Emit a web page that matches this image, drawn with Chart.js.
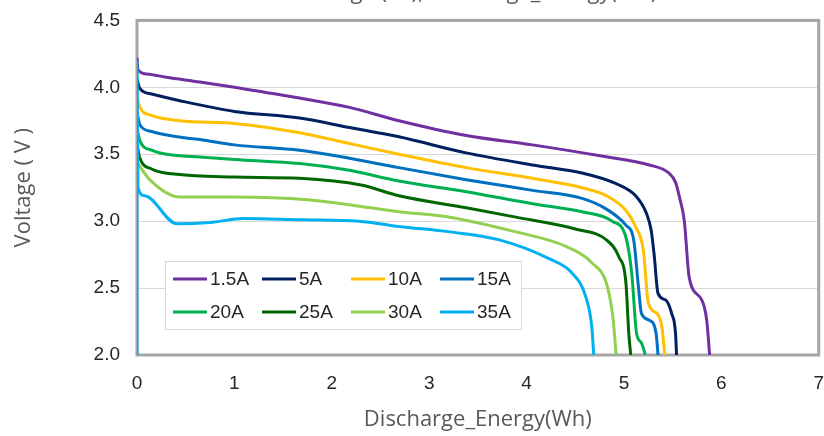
<!DOCTYPE html>
<html>
<head>
<meta charset="utf-8">
<script src="https://cdn.jsdelivr.net/npm/chart.js@4"></script>
<style>
  body { margin: 0; background: #fff; }
  #wrap { position: relative; width: 824px; height: 436px; overflow: hidden; }
  #myChart { position: absolute; left: 0; top: -30px; }
</style>
</head>
<body>
<div id="wrap"><canvas id="myChart" width="824" height="466"></canvas></div>
<script>
// discharge curves, [energy Wh, voltage V]
var curve1p5A = [[0,4.22],[0.01,4.13],[0.1,4.10],[0.3,4.075],[0.645,4.04],[1.0,4.0],[1.67,3.92],[2.18,3.85],[2.69,3.75],[3.38,3.64],[4.06,3.57],[4.74,3.49],[5.26,3.42],[5.46,3.36],[5.53,3.29],[5.57,3.18],[5.62,3.0],[5.67,2.58],[5.80,2.41],[5.85,2.26],[5.88,2.0]];
var curve5A = [[0,4.06],[0.03,3.99],[0.15,3.95],[0.44,3.90],[1.0,3.82],[1.67,3.77],[2.18,3.70],[2.69,3.63],[3.38,3.51],[4.06,3.42],[4.57,3.36],[4.92,3.28],[5.12,3.19],[5.23,3.06],[5.28,2.93],[5.31,2.75],[5.35,2.46],[5.43,2.41],[5.49,2.31],[5.53,2.16],[5.54,2.0]];
var curve10A = [[0,3.93],[0.03,3.85],[0.15,3.79],[0.44,3.75],[1.0,3.73],[1.67,3.66],[2.18,3.58],[2.69,3.50],[3.38,3.40],[4.06,3.32],[4.57,3.25],[4.82,3.19],[5.02,3.08],[5.12,2.96],[5.2,2.78],[5.25,2.39],[5.34,2.31],[5.39,2.21],[5.42,2.0]];
var curve15A = [[0,3.81],[0.03,3.72],[0.15,3.67],[0.41,3.63],[0.645,3.61],[1.0,3.57],[1.67,3.53],[2.18,3.47],[2.69,3.40],[3.38,3.31],[4.06,3.23],[4.57,3.17],[4.82,3.09],[5.02,2.97],[5.10,2.86],[5.15,2.5],[5.18,2.31],[5.26,2.26],[5.33,2.16],[5.35,2.0]];
var curve20A = [[0,3.69],[0.03,3.60],[0.15,3.53],[0.41,3.49],[0.645,3.48],[1.0,3.46],[1.67,3.43],[2.18,3.38],[2.69,3.30],[3.38,3.22],[4.06,3.13],[4.57,3.07],[4.88,3.0],[5.02,2.88],[5.08,2.61],[5.13,2.16],[5.18,2.09],[5.22,2.0]];
var curve25A = [[0,3.57],[0.03,3.47],[0.15,3.39],[0.41,3.35],[1.0,3.33],[1.67,3.32],[2.3,3.27],[2.69,3.19],[3.38,3.10],[3.89,3.03],[4.51,2.94],[4.82,2.86],[4.95,2.73],[5.02,2.54],[5.05,2.16],[5.07,2.0]];
var curve30A = [[0,3.44],[0.13,3.31],[0.44,3.18],[1.0,3.18],[1.75,3.16],[2.3,3.11],[2.69,3.07],[3.21,3.03],[3.89,2.92],[4.41,2.81],[4.67,2.69],[4.83,2.51],[4.89,2.26],[4.92,2.0]];
var curve35A = [[0,2.0],[0,4.2],[0.01,3.25],[0.08,3.19],[0.41,2.98],[0.75,2.99],[1.09,3.02],[1.7,3.01],[2.28,3.0],[2.69,2.96],[3.21,2.92],[3.72,2.86],[4.23,2.72],[4.47,2.61],[4.61,2.43],[4.67,2.21],[4.69,2.0]];

var seriesLabels = ['1.5A', '5A', '10A', '15A', '20A', '25A', '30A', '35A'];
var seriesCurves = [curve1p5A, curve5A, curve10A, curve15A, curve20A, curve25A, curve30A, curve35A];
var seriesColors = ['#7030A0', '#002060', '#FFC000', '#0070C0', '#00B050', '#006600', '#92D050', '#00B0F0'];

var narrow = "'Liberation Sans Narrow', 'Arial Narrow', sans-serif";

// grey frame round the plot area
var frame = {
    id: 'frame',
    beforeDatasetsDraw: function(chart) {
        var a = chart.chartArea, c = chart.ctx;
        c.save();
        c.strokeStyle = '#A6A6A6';
        c.lineWidth = 3;
        c.strokeRect(a.left, a.top, a.right - a.left, a.bottom - a.top);
        c.restore();
    }
};

// legend box inside the plot, 2 rows x 4 columns
var boxLegend = {
    id: 'boxLegend',
    afterDraw: function(chart) {
        var c = chart.ctx;
        var bx = 165, by = 291, bw = 356, bh = 68;
        c.save();
        c.fillStyle = '#fff';
        c.fillRect(bx, by, bw, bh);
        c.strokeStyle = '#D9D9D9';
        c.lineWidth = 1;
        c.strokeRect(bx + 0.5, by + 0.5, bw, bh);
        c.font = '19px ' + narrow;
        c.textBaseline = 'middle';
        chart.data.datasets.forEach(function(ds, i) {
            var x = bx + 8 + (i % 4) * 89;
            var y = by + 18 + Math.floor(i / 4) * 33;
            c.strokeStyle = ds.borderColor;
            c.lineWidth = 3;
            c.beginPath();
            c.moveTo(x, y);
            c.lineTo(x + 34, y);
            c.stroke();
            c.fillStyle = '#262626';
            c.fillText(ds.label, x + 37, y + 1);
        });
        c.restore();
    }
};

var ctx = document.getElementById('myChart').getContext('2d');
var chart = new Chart(ctx, {
    type: 'line',
    data: {
        datasets: seriesLabels.map(function(name, i) {
            return {
                label: name,
                data: seriesCurves[i].map(function(p) { return {x: p[0], y: p[1]}; }),
                borderColor: seriesColors[i],
                backgroundColor: seriesColors[i],
                borderWidth: 3,
                pointRadius: 0,
                fill: false,
                cubicInterpolationMode: 'monotone',
                order: -i
            };
        })
    },
    options: {
        responsive: false,
        animation: false,
        layout: { padding: { left: 0, right: 4, top: 0, bottom: 0 } },
        plugins: {
            legend: { display: false },
            tooltip: { enabled: false },
            title: {
                display: true,
                fullSize: false,
                text: 'Voltage ( V ), Discharge_Energy(Wh)',
                color: '#595959',
                font: { family: "'Open Sans', sans-serif", size: 22, weight: 'normal' },
                padding: { top: 10, bottom: 14 }
            }
        },
        scales: {
            x: {
                type: 'linear',
                min: 0,
                max: 7,
                ticks: { stepSize: 1, padding: 0, color: '#262626', font: { family: narrow, size: 19 } },
                grid: { display: false, drawTicks: true, tickLength: 17 },
                border: { display: false },
                title: {
                    display: true,
                    text: 'Discharge_Energy(Wh)',
                    color: '#595959',
                    font: { family: "'Open Sans', sans-serif", size: 22 },
                    padding: { top: 0, bottom: 3 }
                },
                afterFit: function(s) { s.height = 81; }
            },
            y: {
                min: 2,
                max: 4.5,
                ticks: {
                    stepSize: 0.5,
                    padding: 17,
                    color: '#262626',
                    font: { family: narrow, size: 19 },
                    callback: function(v) { return v.toFixed(1); }
                },
                grid: { color: '#D9D9D9', drawTicks: false },
                border: { display: false },
                title: {
                    display: true,
                    text: 'Voltage ( V )',
                    color: '#595959',
                    font: { family: "'Open Sans', sans-serif", size: 22 },
                    padding: { top: 11, bottom: 0 }
                },
                afterFit: function(s) { s.width = 137; }
            }
        }
    },
    plugins: [frame, boxLegend]
});
</script>
</body>
</html>
